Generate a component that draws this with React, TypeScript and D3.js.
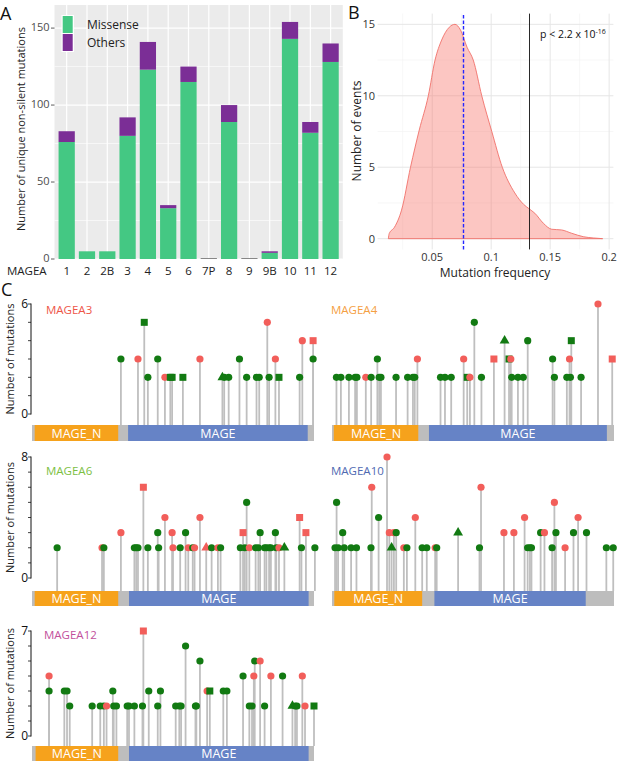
import React from 'react';
import * as d3 from 'd3';

// ---- Panel A: unique non-silent mutations per MAGEA gene
const genes = ['1', '2', '2B', '3', '4', '5', '6', '7P', '8', '9', '9B', '10', '11', '12'];
const missense = [76, 5, 5, 80, 123, 33, 115, 0, 89, 0, 4, 143, 82, 128];
const others = [7, 0, 0, 12, 18, 2, 10, 0, 11, 0, 1, 11, 7, 12];
const yTicksA = [0, 50, 100, 150];
const yMinorA = [25, 75, 125];

// ---- Panel B: mutation frequency density
const freqX = [0.0128, 0.0135, 0.018, 0.024, 0.0316, 0.039, 0.0467, 0.0524, 0.058, 0.0645, 0.0693, 0.074, 0.0795,
  0.0848, 0.092, 0.1005, 0.1094, 0.12, 0.1275, 0.132, 0.137, 0.1442, 0.1513, 0.1597, 0.1682, 0.178, 0.1865, 0.1945];
const density = [0, 0.35, 0.8, 2.0, 5.0, 7.6, 10.0, 12.5, 13.9, 14.8, 15.0, 14.6, 13.4,
  12.5, 10.0, 7.5, 5.0, 3.2, 2.4, 2.1, 1.78, 1.08, 0.66, 0.61, 0.38, 0.14, 0.05, 0];
const xTicksB = [0.05, 0.1, 0.15, 0.2];
const xMinorB = [0.025, 0.075, 0.125, 0.175];
const yTicksB = [0, 5, 10, 15];
const yMinorB = [2.5, 7.5, 12.5];
const meanFreq = 0.0764;
const observedFreq = 0.132;

// ---- Panel C: lollipops [position (aa), number of mutations, class, shape]
type Mut = [number, number, string, string];

const mageA3: Mut[] = [
  [99, 3, 'g', 'c'], [118, 3, 'r', 'c'], [125, 5, 'g', 's'], [129, 2, 'g', 'c'], [140, 3, 'g', 'c'], [148, 2, 'r', 'c'],
  [154, 2, 'g', 's'], [156, 2, 'g', 's'], [168, 2, 'g', 's'], [187, 3, 'r', 'c'], [212, 2, 'g', 't'], [214, 2, 'g', 'c'],
  [219, 2, 'g', 'c'], [231, 3, 'g', 'c'], [239, 2, 'g', 'c'], [250, 2, 'g', 'c'], [253, 2, 'g', 'c'], [262, 5, 'r', 'c'],
  [264, 2, 'g', 'c'], [271, 3, 'r', 'c'], [275, 2, 'g', 's'], [298, 2, 'g', 'c'], [301, 4, 'r', 'c'], [313, 3, 'g', 'c'],
  [313, 4, 'r', 's'],
];
const mageA4: Mut[] = [
  [5, 2, 'g', 'c'], [10, 2, 'g', 'c'], [19, 2, 'g', 'c'], [26, 2, 'g', 'c'], [28, 2, 'g', 'c'], [38, 2, 'r', 'c'],
  [44, 2, 'g', 'c'], [51, 3, 'g', 'c'], [53, 2, 'g', 'c'], [55, 2, 'g', 'c'], [72, 2, 'g', 'c'], [85, 2, 'g', 'c'],
  [91, 2, 'g', 'c'], [93, 2, 'g', 'c'], [96, 3, 'r', 'c'], [122, 2, 'g', 'c'], [127, 2, 'g', 'c'], [134, 2, 'g', 'c'],
  [148, 3, 'r', 'c'], [152, 2, 'g', 's'], [155, 2, 'r', 'c'], [160, 5, 'g', 'c'], [168, 2, 'g', 'c'], [182, 3, 'r', 's'],
  [194, 4, 'g', 't'], [199, 3, 'g', 's'], [201, 3, 'r', 'c'], [202, 2, 'g', 'c'], [209, 2, 'g', 'c'], [215, 2, 'g', 'c'],
  [220, 4, 'g', 'c'], [248, 3, 'g', 'c'], [250, 2, 'g', 'c'], [264, 2, 'g', 'c'], [267, 3, 'r', 'c'], [268, 2, 'g', 'c'],
  [269, 4, 'g', 's'], [280, 2, 'g', 'c'], [299, 6, 'r', 'c'], [315, 3, 'r', 's'],
];
const mageA6: Mut[] = [
  [28, 2, 'g', 'c'], [78, 2, 'r', 'c'], [80, 2, 'g', 'c'], [99, 3, 'r', 'c'], [114, 2, 'g', 'c'], [116, 2, 'g', 'c'],
  [118, 2, 'g', 'c'], [124, 6, 'r', 's'], [129, 2, 'g', 'c'], [140, 3, 'g', 'c'], [141, 2, 'g', 'c'], [148, 4, 'r', 'c'],
  [156, 3, 'r', 'c'], [157, 2, 'r', 'c'], [165, 2, 'g', 'c'], [171, 3, 'g', 'c'], [174, 2, 'r', 'c'], [179, 2, 'g', 'c'],
  [181, 2, 'r', 'c'], [187, 4, 'r', 'c'], [194, 2, 'r', 't'], [200, 2, 'g', 'c'], [207, 2, 'r', 'c'], [210, 2, 'g', 'c'],
  [232, 2, 'g', 'c'], [235, 3, 'r', 's'], [237, 2, 'g', 'c'], [239, 5, 'g', 'c'], [242, 2, 'r', 'c'], [249, 2, 'g', 'c'],
  [252, 2, 'g', 'c'], [254, 3, 'g', 'c'], [259, 2, 'g', 'c'], [261, 2, 'g', 'c'], [264, 2, 'g', 'c'], [266, 2, 'g', 'c'],
  [271, 3, 'g', 'c'], [272, 2, 'g', 'c'], [275, 2, 'r', 'c'], [281, 2, 'g', 't'], [298, 4, 'r', 's'], [300, 2, 'g', 'c'],
  [305, 3, 'r', 's'], [315, 2, 'g', 'c'],
];
const mageA10: Mut[] = [
  [4, 2, 'g', 'c'], [6, 5, 'g', 'c'], [8, 2, 'g', 'c'], [14, 3, 'g', 'c'], [16, 2, 'g', 'c'], [25, 2, 'g', 'c'],
  [32, 2, 'g', 'c'], [51, 2, 'g', 'c'], [52, 6, 'r', 'c'], [61, 4, 'g', 'c'], [72, 8, 'r', 'c'], [75, 3, 'r', 'c'],
  [78, 2, 'g', 't'], [81, 3, 'r', 'c'], [84, 3, 'g', 'c'], [94, 2, 'r', 'c'], [98, 2, 'g', 'c'], [109, 4, 'r', 'c'],
  [118, 2, 'g', 'c'], [124, 2, 'g', 'c'], [135, 2, 'r', 'c'], [137, 2, 'g', 'c'], [165, 3, 'g', 't'], [193, 2, 'g', 'c'],
  [195, 6, 'r', 'c'], [225, 3, 'r', 'c'], [238, 3, 'r', 'c'], [252, 4, 'r', 'c'], [256, 2, 'g', 'c'], [259, 2, 'g', 'c'],
  [261, 2, 'g', 'c'], [273, 3, 'g', 'c'], [278, 3, 'r', 'c'], [288, 2, 'g', 'c'], [291, 5, 'r', 'c'], [293, 3, 'g', 'c'],
  [305, 2, 'r', 'c'], [316, 3, 'g', 'c'], [322, 4, 'r', 'c'], [333, 3, 'g', 'c'], [359, 2, 'g', 'c'], [368, 2, 'g', 'c'],
];
const mageA12: Mut[] = [
  [19, 3, 'g', 'c'], [19, 4, 'r', 'c'], [36, 3, 'g', 'c'], [39, 3, 'g', 'c'], [42, 2, 'g', 'c'], [67, 2, 'g', 'c'],
  [76, 2, 'g', 'c'], [80, 2, 'g', 'c'], [83, 2, 'r', 'c'], [90, 3, 'g', 'c'], [91, 2, 'g', 'c'], [94, 2, 'g', 'c'],
  [106, 2, 'g', 'c'], [108, 2, 'g', 'c'], [114, 2, 'g', 'c'], [123, 2, 'g', 'c'], [124, 7, 'r', 's'], [130, 3, 'g', 'c'],
  [140, 2, 'g', 'c'], [143, 3, 'g', 'c'], [160, 2, 'g', 'c'], [164, 2, 'g', 'c'], [166, 2, 'g', 'c'], [171, 6, 'g', 'c'],
  [182, 2, 'g', 'c'], [183, 2, 'g', 'c'], [187, 5, 'g', 'c'], [195, 3, 'r', 'c'], [198, 3, 'g', 's'], [213, 3, 'g', 'c'],
  [217, 3, 'g', 'c'], [235, 4, 'g', 'c'], [242, 2, 'g', 'c'], [245, 2, 'g', 'c'], [247, 4, 'r', 'c'], [248, 5, 'g', 'c'],
  [254, 5, 'r', 'c'], [259, 2, 'g', 'c'], [266, 4, 'r', 'c'], [279, 4, 'g', 'c'], [290, 2, 'g', 't'], [293, 2, 'g', 'c'],
  [295, 2, 'g', 'c'], [301, 4, 'r', 'c'], [304, 2, 'r', 'c'], [314, 2, 'g', 's'],
];

// protein lengths and domains [start, end] for MAGE_N then MAGE
const proteinLength = { A3: 314, A4: 317, A6: 314, A10: 369, A12: 314 };
const domainsA3 = [[3, 96], [107, 307]];
const domainsA4 = [[2, 97], [109, 309]];
const domainsA6 = [[3, 96], [108, 308]];
const domainsA10 = [[3, 118], [134, 332]];
const domainsA12 = [[4, 96], [108, 308]];
const domainNames = ['MAGE_N', 'MAGE'];

const FONT = "'Open Sans', 'Noto Sans', sans-serif";
const MISSENSE = '#44c883';
const OTHERS = '#7b2e96';
const PINK = '#f25e5a';
const GREEN = '#127a12';
const STEM = '#bfbfbf';
const DOMAIN_COLORS = ['#f6a21c', '#6683c6'];

function BarPanel() {
  const x = d3.scaleBand<string>().domain(genes).range([54.5, 342.8]).paddingInner(0.2).paddingOuter(0.2);
  const y = d3.scaleLinear().domain([0, 165]).range([259, 5]);
  const rows = genes.map((g, i) => ({ gene: g, missense: missense[i], others: others[i] }));
  const stacked = d3.stack<any>().keys(['missense', 'others'])(rows);
  const colors = [MISSENSE, OTHERS];
  const [x0, x1] = x.range();
  const bw = x.bandwidth();
  return (
    <g fontFamily={FONT}>
      <rect x={x0} y={y(165)} width={x1 - x0} height={y(0) - y(165)} fill="#ebebeb" />
      {yMinorA.map(v => <line key={'mn' + v} x1={x0} x2={x1} y1={y(v)} y2={y(v)} stroke="#fff" strokeWidth={0.6} />)}
      {yTicksA.map(v => <line key={'mj' + v} x1={x0} x2={x1} y1={y(v)} y2={y(v)} stroke="#fff" strokeWidth={1.2} />)}
      {genes.map(g => <line key={'v' + g} x1={x(g)! + bw / 2} x2={x(g)! + bw / 2} y1={y(0)} y2={y(165)} stroke="#fff" strokeWidth={1.2} />)}
      {stacked.map((s, k) => s.map((d, i) => (d[1] - d[0] > 0 ?
        <rect key={k + '-' + i} x={x(genes[i])} y={y(d[1])} width={bw} height={y(d[0]) - y(d[1])} fill={colors[k]} /> : null)))}
      {genes.map((g, i) => (missense[i] + others[i] === 0 ?
        <line key={'z' + g} x1={x(g)} x2={x(g)! + bw} y1={y(0) - 0.5} y2={y(0) - 0.5} stroke="#6b6b6b" strokeWidth={0.8} /> : null))}
      {yTicksA.map(v => (
        <g key={'t' + v}>
          <line x1={x0 - 3.5} x2={x0} y1={y(v)} y2={y(v)} stroke="#333" strokeWidth={0.8} />
          <text x={x0 - 5} y={y(v)} dy="0.3em" textAnchor="end" fontSize={11} fill="#4d4d4d">{v}</text>
        </g>
      ))}
      {genes.map(g => <text key={'l' + g} x={x(g)! + bw / 2} y={275} textAnchor="middle" fontSize={11.5} fill="#222">{g}</text>)}
      <text x={7} y={275} fontSize={11.5} fill="#222">MAGEA</text>
      <text transform={`translate(24.5,${(y(0) + y(165)) / 2 - 3}) rotate(-90)`} textAnchor="middle" fontSize={11} fill="#222">
        Number of unique non-silent mutations
      </text>
      {/* legend */}
      {[['Missense', MISSENSE], ['Others', OTHERS]].map(([label, c], i) => (
        <g key={label}>
          <rect x={61.5} y={15 + i * 18} width={12.5} height={19} fill="#fff" />
          <rect x={62.7} y={16 + i * 18} width={10} height={17} fill={c} />
          <text x={87} y={25 + i * 17.5} dy="0.35em" fontSize={12} fill="#222">{label}</text>
        </g>
      ))}
      <text x={0} y={20} fontSize={18} fill="#111">A</text>
    </g>
  );
}

function DensityPanel() {
  const x = d3.scaleLinear().domain([0.0037, 0.2036]).range([377.6, 613.4]);
  const y = d3.scaleLinear().domain([-0.75, 15.75]).range([249.4, 13.6]);
  const pts = freqX.map((f, i) => [f, density[i]] as [number, number]);
  const area = d3.area<[number, number]>().x(d => x(d[0])).y0(y(0)).y1(d => y(d[1])).curve(d3.curveMonotoneX);
  const line = d3.line<[number, number]>().x(d => x(d[0])).y(d => y(d[1])).curve(d3.curveMonotoneX);
  const [xa, xb] = x.range();
  const [ya, yb] = y.range();
  const xMean = Math.round(x(meanFreq)) + 0.5;
  const xObs = Math.round(x(observedFreq)) + 0.5;
  return (
    <g fontFamily={FONT}>
      {xMinorB.map(v => <line key={'xm' + v} x1={x(v)} x2={x(v)} y1={ya} y2={yb} stroke="#f2f2f2" strokeWidth={0.6} />)}
      {yMinorB.map(v => <line key={'ym' + v} x1={xa} x2={xb} y1={y(v)} y2={y(v)} stroke="#f2f2f2" strokeWidth={0.6} />)}
      {xTicksB.map(v => <line key={'xj' + v} x1={x(v)} x2={x(v)} y1={ya} y2={yb} stroke="#e6e6e6" strokeWidth={1} />)}
      {yTicksB.map(v => <line key={'yj' + v} x1={xa} x2={xb} y1={y(v)} y2={y(v)} stroke="#e6e6e6" strokeWidth={1} />)}
      <path d={area(pts)!} fill="#f8766d" fillOpacity={0.42} />
      <path d={line(pts)!} fill="none" stroke="#f0716a" strokeWidth={0.9} />
      <line x1={x(0.0128)} x2={x(0.1945)} y1={y(0)} y2={y(0)} stroke="#f0716a" strokeWidth={0.9} />
      <line x1={xMean} x2={xMean} y1={ya} y2={yb} stroke="#2626ff" strokeWidth={1.4} strokeDasharray="3.5,2" />
      <line x1={xObs} x2={xObs} y1={ya} y2={yb} stroke="#111" strokeWidth={0.9} />
      <text x={540} y={38} fontSize={10.5} fill="#111">
        p &lt; 2.2 x 10<tspan dy={-4} fontSize={7}>-16</tspan>
      </text>
      {yTicksB.map(v => <text key={'yl' + v} x={375} y={y(v)} dy="0.35em" textAnchor="end" fontSize={11} fill="#333">{v}</text>)}
      {xTicksB.map(v => <text key={'xl' + v} x={x(v)} y={261} textAnchor="middle" fontSize={11} fill="#333">{String(v)}</text>)}
      <text x={495} y={277} textAnchor="middle" fontSize={12} fill="#222">Mutation frequency</text>
      <text transform={`translate(361,131) rotate(-90)`} textAnchor="middle" fontSize={12} fill="#222">Number of events</text>
      <text x={348} y={19} fontSize={18} fill="#111">B</text>
    </g>
  );
}

interface LollipopProps {
  name: string;
  nameColor: string;
  muts: Mut[];
  domains: number[][];
  length: number;
  left: number;
  yZero: number;
  yTop: number;
  maxY: number;
  barY: number;
  barH: number;
  labelX: number;
  labelY: number;
  axis: boolean;
}

function Lollipop(p: LollipopProps) {
  const x = d3.scaleLinear().domain([0, p.length]).range([p.left, p.left + 282]);
  const y = d3.scaleLinear().domain([0, p.maxY]).range([p.yZero, p.yTop]);
  const tri = d3.symbol().type(d3.symbolTriangle).size(42)()!;
  const ticks = d3.range(0, p.maxY + 1);
  return (
    <g fontFamily={FONT}>
      {p.axis && (
        <g>
          <line x1={p.left - 1} x2={p.left - 1} y1={y(0) + 0.5} y2={y(p.maxY) - 0.5} stroke="#111" strokeWidth={1} />
          {ticks.map(t => <line key={t} x1={p.left - 4} x2={p.left - 1} y1={y(t)} y2={y(t)} stroke="#111" strokeWidth={0.8} />)}
          {[0, p.maxY].map(t => <text key={'l' + t} x={p.left - 4} y={y(t)} dy="0.36em" textAnchor="end" fontSize={12} fill="#111">{t}</text>)}
          <text transform={`translate(14,${(y(0) + y(p.maxY)) / 2}) rotate(-90)`} textAnchor="middle" fontSize={11} fill="#222">
            Number of mutations
          </text>
        </g>
      )}
      <text x={p.labelX} y={p.labelY} fontSize={11.5} fill={p.nameColor}>{p.name}</text>
      {p.muts.map((m, i) => (
        <line key={'s' + i} x1={x(m[0])} x2={x(m[0])} y1={p.barY} y2={y(m[1])} stroke={STEM} strokeWidth={1.8} />
      ))}
      <rect x={x(0)} y={p.barY} width={x(p.length) - x(0)} height={p.barH} fill="#bdbdbd" />
      {p.domains.map((d, i) => (
        <g key={'d' + i}>
          <rect x={x(d[0])} y={p.barY} width={x(d[1]) - x(d[0])} height={p.barH} fill={DOMAIN_COLORS[i]} />
          <text x={(x(d[0]) + x(d[1])) / 2} y={p.barY + p.barH / 2} dy="0.36em" textAnchor="middle" fontSize={12.5} fill="#fff">
            {domainNames[i]}
          </text>
        </g>
      ))}
      {p.muts.map((m, i) => {
        const cx = x(m[0]);
        const cy = y(m[1]);
        const c = m[2] === 'r' ? PINK : GREEN;
        if (m[3] === 's') return <rect key={'m' + i} x={cx - 3.5} y={cy - 3.5} width={7} height={7} fill={c} />;
        if (m[3] === 't') return <path key={'m' + i} d={tri} transform={`translate(${cx},${cy})`} fill={c} />;
        return <circle key={'m' + i} cx={cx} cy={cy} r={3.6} fill={c} />;
      })}
    </g>
  );
}

export default function App() {
  return (
    <svg width={617} height={761} style={{ position: 'absolute', left: 0, top: 0, background: '#fff' }}>
      <BarPanel />
      <DensityPanel />
      <text x={1} y={296} fontSize={18} fill="#111" fontFamily={FONT}>C</text>
      <Lollipop name="MAGEA3" nameColor="#ee5648" muts={mageA3} domains={domainsA3} length={proteinLength.A3}
        left={32} yZero={414} yTop={304} maxY={6} barY={425} barH={16} labelX={46} labelY={314} axis />
      <Lollipop name="MAGEA4" nameColor="#f5a043" muts={mageA4} domains={domainsA4} length={proteinLength.A4}
        left={332} yZero={414} yTop={304} maxY={6} barY={425} barH={16} labelX={331} labelY={314} axis={false} />
      <Lollipop name="MAGEA6" nameColor="#7cc043" muts={mageA6} domains={domainsA6} length={proteinLength.A6}
        left={32} yZero={578} yTop={457} maxY={8} barY={591} barH={15} labelX={46} labelY={475} axis />
      <Lollipop name="MAGEA10" nameColor="#4f6ab2" muts={mageA10} domains={domainsA10} length={proteinLength.A10}
        left={332} yZero={578} yTop={457} maxY={8} barY={591} barH={15} labelX={331} labelY={475} axis={false} />
      <Lollipop name="MAGEA12" nameColor="#c2509c" muts={mageA12} domains={domainsA12} length={proteinLength.A12}
        left={32} yZero={736} yTop={631} maxY={7} barY={746} barH={15} labelX={44} labelY={639} axis />
    </svg>
  );
}
